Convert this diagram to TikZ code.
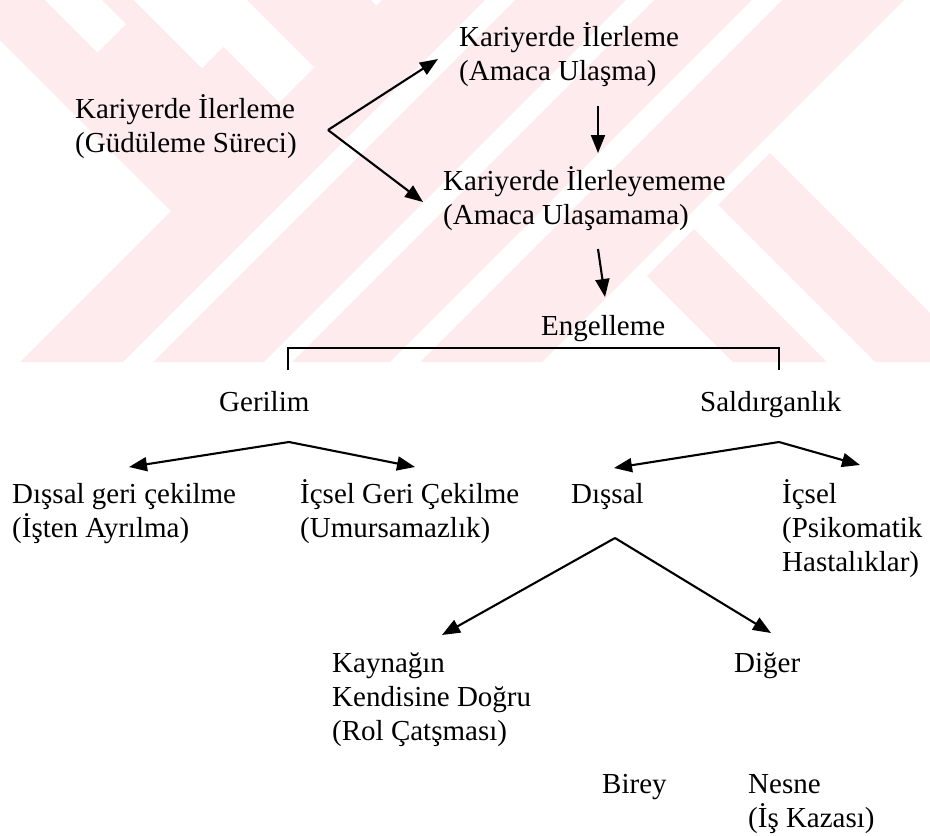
\documentclass[tikz,border=0pt]{standalone}
\usepackage{fontspec}
\setmainfont{Liberation Serif}
\usetikzlibrary{arrows.meta}
\definecolor{wmpink}{RGB}{253,235,238}

\begin{document}
\begin{tikzpicture}[x=1pt, y=-1pt,
    lbl/.style={anchor=base west, align=left, inner sep=0pt, font=\fontsize{29}{34}\selectfont},
    arr/.style={line width=2.1pt, -{Triangle[length=18pt,width=14pt]}},
    lin/.style={line width=2.1pt}]
\useasboundingbox (0,0) rectangle (930,836);
% watermark
\fill[wmpink] (0,0) -- (371,0) -- (376.5,5.5) -- (171,211) -- (0,40) -- cycle;
\fill[white] (177,0) -- (247,0) -- (314.5,67.5) -- (279.5,102.5) -- cycle;
\fill[white] (134,0) -- (177,0) -- (223.5,46.5) -- (202,68) -- cycle;
\fill[white] (45,0) -- (102,0) -- (126,24) -- (97.5,52.5) -- cycle;
\fill[wmpink] (382,0) -- (904,0) -- (542,362) -- (20,362) -- cycle;
\fill[white] (485,0) -- (515,0) -- (153,362) -- (123,362) -- cycle;
\fill[white] (626,0) -- (654,0) -- (292,362) -- (264,362) -- cycle;
\fill[white] (752,0) -- (782,0) -- (420,362) -- (390,362) -- cycle;
\fill[wmpink] (770,153) -- (930,313) -- (930,362) -- (733,362) -- (647,276) -- cycle;
\fill[white] (694,229) -- (718,205) -- (875,362) -- (827,362) -- cycle;

            % base anchor = baseline of the last line
            \node[lbl] (1) at (75,152) {Kariyerde İlerleme\\(Güdüleme Süreci)};
            \node[lbl] (2) at (459,80) {Kariyerde İlerleme\\(Amaca Ulaşma)};
            \node[lbl] (3) at (443,224) {Kariyerde İlerleyememe\\(Amaca Ulaşamama)};
            \node[lbl] (4) at (541,335) {Engelleme};
            \node[lbl] (5) at (219,411) {Gerilim};
            \node[lbl] (6) at (700,411) {Saldırganlık};
            \node[lbl] (7) at (12,537) {Dışsal geri çekilme\\(İşten Ayrılma)};
            \node[lbl] (8) at (300,537) {İçsel Geri Çekilme\\(Umursamazlık)};
            \node[lbl] (9) at (571,503) {Dışsal};
            \node[lbl] (10) at (782,571) {İçsel\\(Psikomatik\\Hastalıklar)};
            \node[lbl] (11) at (332,740) {Kaynağın\\Kendisine Doğru\\(Rol Çatşması)};
            \node[lbl] (12) at (734,672) {Diğer};
            \node[lbl] (13) at (602,793) {Birey};
            \node[lbl] (14) at (748,827) {Nesne\\(İş Kazası)};
            \node (20) at (328,130) {};
            \node (21) at (438,59) {};
            \node (22) at (423,202) {};
            \node (23) at (598,106) {};
            \node (24) at (598,153) {};
            \node (25) at (598,249) {};
            \node (26) at (605,297) {};
            \node (27) at (288,370) {};
            \node (28) at (288,348) {};
            \node (29) at (779,348) {};
            \node (30) at (779,370) {};
            \node (31) at (289,442) {};
            \node (32) at (129,467) {};
            \node (33) at (415,467) {};
            \node (34) at (779,442) {};
            \node (35) at (614,468) {};
            \node (36) at (860,465) {};
            \node (37) at (615,538) {};
            \node (38) at (442,635) {};
            \node (39) at (771,633) {};
            \draw[arr] (20.center) to (21.center);
            \draw[arr] (20.center) to (22.center);
            \draw[arr] (23.center) to (24.center);
            \draw[arr] (25.center) to (26.center);
            \draw[lin] (27.center) to (28.center) to (29.center) to (30.center);
            \draw[arr] (31.center) to (32.center);
            \draw[arr] (31.center) to (33.center);
            \draw[arr] (34.center) to (35.center);
            \draw[arr] (34.center) to (36.center);
            \draw[arr] (37.center) to (38.center);
            \draw[arr] (37.center) to (39.center);
\end{tikzpicture}
\end{document}
